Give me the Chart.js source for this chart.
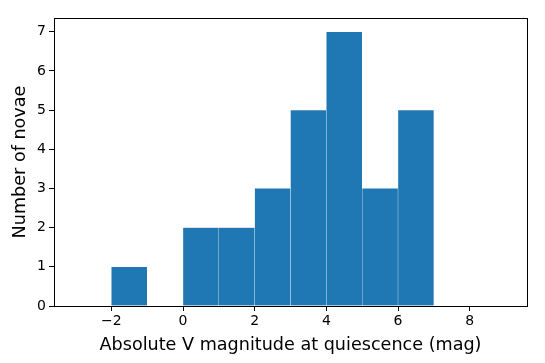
<!DOCTYPE html>
<html>
<head>
<meta charset="utf-8">
<script src="https://cdn.jsdelivr.net/npm/chart.js@4/dist/chart.umd.min.js"></script>
<style>
  html, body { margin: 0; padding: 0; background: #fff; }
  #wrap { width: 545px; height: 363px; }
</style>
</head>
<body>
<div id="wrap"><canvas id="hist"></canvas></div>
<script>
// histogram bins (left edges, width 1 mag) and counts
const binStarts = [-2, -1, 0, 1, 2, 3, 4, 5, 6];
const counts    = [ 1,  0, 2, 2, 3, 5, 7, 3, 5];
const xTicks = [-2, 0, 2, 4, 6, 8];
const yTicks = [0, 1, 2, 3, 4, 5, 6, 7];

const font = "'DejaVu Sans', sans-serif";

const frame = {
  id: "frame",
  afterDraw: chart => {
    const { ctx, chartArea: a } = chart;
    ctx.save();
    ctx.strokeStyle = "#000";
    ctx.lineWidth = 1;
    ctx.strokeRect(Math.round(a.left) + 0.5, Math.round(a.top) + 0.5,
                   Math.round(a.right - a.left), Math.round(a.bottom - a.top));
    ctx.restore();
  }
};

new Chart(document.getElementById("hist"), {
  type: "bar",
  data: {
    datasets: [{
      data: binStarts.map((s, i) => ({ x: s + 0.5, y: counts[i] })),
      backgroundColor: "#1f77b4",
      borderColor: "rgba(255,255,255,0.12)",
      borderWidth: 0.5,
      barPercentage: 1,
      categoryPercentage: 1
    }]
  },
  options: {
    responsive: true,
    maintainAspectRatio: false,
    animation: false,
    layout: { padding: { top: 18, right: 18, left: 0, bottom: 0 } },
    plugins: { legend: { display: false }, tooltip: { enabled: false } },
    scales: {
      x: {
        type: "linear",
        min: -3.6,
        max: 9.6,
        offset: false,
        afterBuildTicks: s => { s.ticks = xTicks.map(v => ({ value: v })); },
        afterFit: s => { s.height = 57; },
        grid: { offset: false, drawOnChartArea: false, drawTicks: true, tickLength: 5, color: "#000" },
        border: { display: false },
        ticks: { color: "#000", font: { family: font, size: 14 }, padding: 2,
                 maxRotation: 0, callback: v => v < 0 ? "\u2212" + Math.abs(v) : "" + v },
        title: { display: true, text: "Absolute V magnitude at quiescence (mag)",
                 color: "#000", font: { family: font, size: 17.6 }, padding: { top: 2, bottom: 7 } }
      },
      y: {
        min: 0,
        max: 7.35,
        afterBuildTicks: s => { s.ticks = yTicks.map(v => ({ value: v })); },
        afterFit: s => { s.width = 54; },
        grid: { offset: false, drawOnChartArea: false, drawTicks: true, tickLength: 5, color: "#000" },
        border: { display: false },
        ticks: { color: "#000", font: { family: font, size: 14 }, padding: 3 },
        title: { display: true, text: "Number of novae",
                 color: "#000", font: { family: font, size: 17.6 }, padding: { top: 10, bottom: 0 } }
      }
    }
  },
  plugins: [frame]
});
</script>
</body>
</html>
